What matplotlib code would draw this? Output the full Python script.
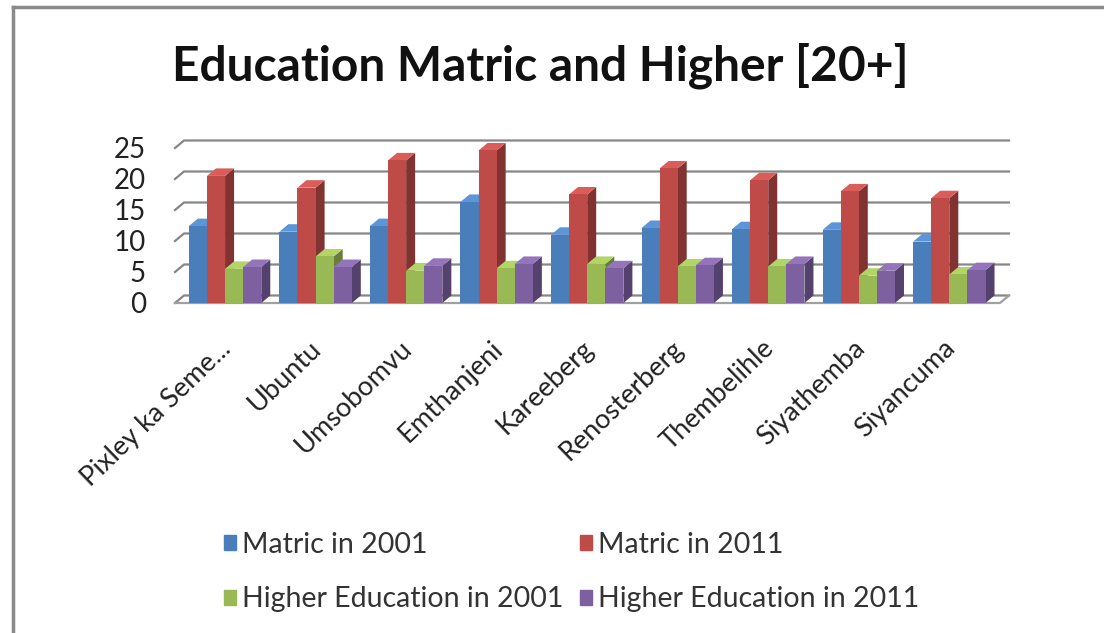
import matplotlib
matplotlib.use("Agg")
import matplotlib.pyplot as plt
from matplotlib.patches import Polygon, Rectangle
import matplotlib.colors as mcolors
import matplotlib.transforms as mtransforms
import numpy as np

plt.rcParams['font.family'] = ['Lato', 'DejaVu Sans']

title = "Education Matric and Higher [20+]"
categories = ["Pixley ka Seme...", "Ubuntu", "Umsobomvu", "Emthanjeni", "Kareeberg",
              "Renosterberg", "Thembelihle", "Siyathemba", "Siyancuma"]
series_names = ["Matric in 2001", "Matric in 2011", "Higher Education in 2001", "Higher Education in 2011"]
matric_2001 = [12.4, 11.5, 12.4, 16.3, 11.0, 12.1, 11.9, 11.8, 9.9]
matric_2011 = [20.5, 18.6, 23.0, 24.6, 17.5, 21.7, 19.8, 18.0, 16.9]
higher_2001 = [5.5, 7.5, 5.2, 5.6, 6.3, 5.9, 5.9, 4.4, 4.6]
higher_2011 = [5.8, 5.8, 6.0, 6.3, 5.6, 6.1, 6.3, 5.2, 5.3]
yticks = [0, 5, 10, 15, 20, 25]

series = [matric_2001, matric_2011, higher_2001, higher_2011]
colors = ["#4a7ebb", "#be4b48", "#98b954", "#7d60a0"]

W, H = 1104, 633
fig = plt.figure(figsize=(W / 100, H / 100), dpi=100)

# frame
fig.add_artist(plt.Line2D([13 / W, 13 / W], [0, 1 - 7 / H], color="#8a8a8a", lw=2.5))
fig.add_artist(plt.Line2D([13 / W, 1], [1 - 7 / H, 1 - 7 / H], color="#8a8a8a", lw=2.5))

# axes: front plane
x0p, x1p = 175, 1000
y0p, y25p = 303, 148
ax = fig.add_axes([x0p / W, 1 - y0p / H, (x1p - x0p) / W, (y0p - y25p) / H])
xmin, xmax = -0.553, 8.56
ax.set_xlim(xmin, xmax)
ax.set_ylim(0, 25)
for s in ax.spines.values():
    s.set_visible(False)

dx = 9 / 90.5
dy = 7.5 / 6.2

# back-wall gridlines + left wall
grid_c = "#868686"
for v in yticks:
    ax.plot([xmin, xmin + dx, xmax + dx], [v, v + dy, v + dy], color=grid_c, lw=1.6,
            clip_on=False, zorder=1, solid_joinstyle="miter")
# floor front edge
ax.plot([xmin, xmax, xmax + dx], [0, 0, dy], color="#a0a0a0", lw=1.6, clip_on=False, zorder=1)

bw = 0.2
n = len(series)
x = np.arange(len(categories))
for k, (vals, c) in enumerate(zip(series, colors)):
    pos = x + (k - (n - 1) / 2) * bw
    bars = ax.bar(pos, vals, width=bw, color=c, zorder=3, clip_on=False, linewidth=0)
    rgb = np.array(mcolors.to_rgb(c))
    side_c = rgb * 0.68
    top_c = np.clip(rgb * 1.1 + 0.04, 0, 1)
    for b in bars:
        bx, bh = b.get_x(), b.get_height()
        side = Polygon([[bx + bw, 0], [bx + bw + dx, dy], [bx + bw + dx, bh + dy], [bx + bw, bh]],
                       closed=True, facecolor=side_c, edgecolor="none", zorder=2.9, clip_on=False)
        top = Polygon([[bx, bh], [bx + dx, bh + dy], [bx + bw + dx, bh + dy], [bx + bw, bh]],
                      closed=True, facecolor=top_c, edgecolor="none", zorder=2.9, clip_on=False)
        ax.add_patch(side)
        ax.add_patch(top)

ax.set_yticks(yticks)
ax.set_yticklabels([str(v) for v in yticks], fontsize=20, color="#222222")
ax.tick_params(axis="y", length=0, pad=21)
ax.set_xticks(x)
ax.set_xticklabels(categories, rotation=44, ha="right", va="center", rotation_mode="anchor",
                   fontsize=19.5, color="#222222")
ax.tick_params(axis="x", length=0, pad=30)
offset = mtransforms.ScaledTranslation(2 / 100, 0, fig.dpi_scale_trans)
for lab in ax.get_xticklabels():
    lab.set_transform(lab.get_transform() + offset)

fig.text(540 / W, 1 - 66 / H, title, ha="center", va="center", fontsize=34.5, fontweight="bold",
         color="#111111")

order = [0, 2, 1, 3]
handles = [Rectangle((0, 0), 1, 1, color=colors[i]) for i in order]
labels = [series_names[i] for i in order]
fig.legend(handles, labels, loc="upper left", bbox_to_anchor=(224 / W, 1 - 532 / H),
           ncol=2, frameon=False, fontsize=20.5, handlelength=0.42, handleheight=0.42,
           handletextpad=0.2, columnspacing=0.6, labelspacing=1.0, labelcolor="#333333",
           borderaxespad=0, borderpad=0)

fig.savefig("out.png", dpi=100)
